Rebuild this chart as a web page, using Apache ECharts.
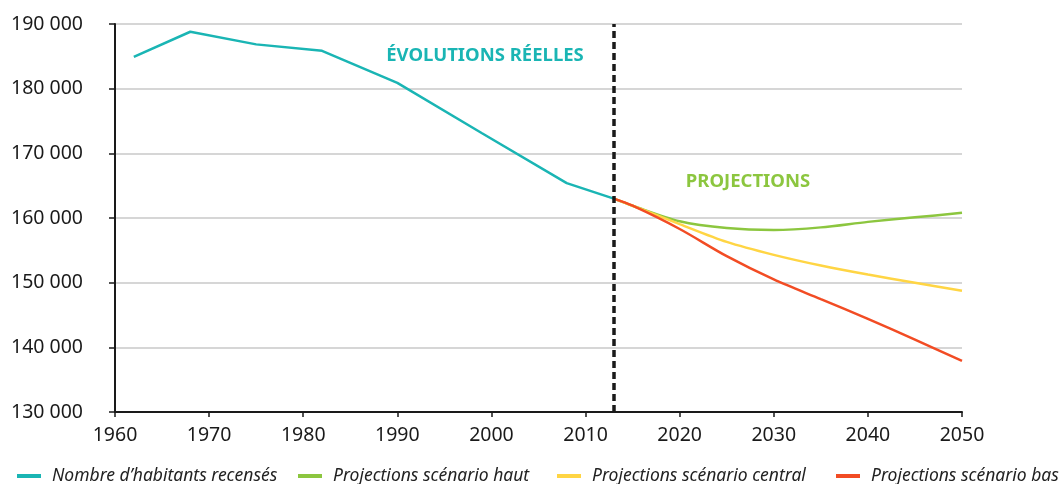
<!DOCTYPE html>
<html><head><meta charset="utf-8">
<script src="https://cdn.jsdelivr.net/npm/echarts@6/dist/echarts.min.js"></script>
<style>html,body{margin:0;padding:0;background:#fff}#c{width:1061px;height:484px}</style>
</head><body><div id="c"></div>
<script>
const seriesNames = ['Nombre d’habitants recensés', 'Projections scénario haut', 'Projections scénario central', 'Projections scénario bas'];
const seriesColors = ['#1ab5b4', '#8cc63f', '#ffd544', '#f24c24'];
const yearsActual = [1962, 1968, 1975, 1982, 1990, 1999, 2008, 2013];
const valuesActual = [184900, 188800, 186850, 185850, 180900, 173100, 165400, 163000];
const yearsProj = [2013, 2015, 2020, 2025, 2030, 2035, 2040, 2045, 2050];
const valuesHigh = [163000, 161900, 159500, 158450, 158150, 158550, 159400, 160100, 160800];
const valuesCentral = [163000, 161900, 159050, 156300, 154300, 152650, 151250, 150000, 148750];
const valuesLow = [163000, 161900, 158300, 154100, 150500, 147450, 144400, 141200, 137900];
const separatorYear = 2013;
const annotations = ['ÉVOLUTIONS RÉELLES', 'PROJECTIONS'];

const FONT = '"Noto Sans", sans-serif';
const pair = (xs, ys) => xs.map((x, i) => [x, ys[i]]);
const fmt = v => String(v).replace(/\B(?=(\d{3})+(?!\d))/g, ' ');

const legendLefts = [12, 293, 552, 831];

const chart = echarts.init(document.getElementById('c'), null, {renderer: 'canvas'});
chart.setOption({
  animation: false,
  backgroundColor: '#fff',
  grid: {left: 115, right: 99, top: 24, bottom: 72, containLabel: false},
  xAxis: {
    type: 'value', min: 1960, max: 2050, interval: 10,
    axisLine: {show: true, lineStyle: {color: '#1a1a1a', width: 2}},
    axisTick: {show: true, length: 5, lineStyle: {color: '#1a1a1a', width: 1.5}},
    splitLine: {show: false},
    axisLabel: {color: '#1a1a1a', fontSize: 19.5, fontFamily: FONT, margin: 13, formatter: v => String(v)}
  },
  yAxis: {
    type: 'value', min: 130000, max: 190000, interval: 10000,
    axisLine: {show: true, lineStyle: {color: '#1a1a1a', width: 2}},
    axisTick: {show: true, length: 6, lineStyle: {color: '#1a1a1a', width: 1.5}},
    splitLine: {show: true, lineStyle: {color: '#c8c8c8', width: 1.5}},
    axisLabel: {color: '#1a1a1a', fontSize: 19.5, fontFamily: FONT, margin: 32, formatter: fmt}
  },
  legend: seriesNames.map((n, i) => ({
    data: [n], left: legendLefts[i], top: 462, icon: 'rect', itemWidth: 24, itemHeight: 4,
    textStyle: {fontStyle: 'italic', fontSize: 17.5, color: '#222', fontFamily: FONT, padding: [0, 0, 0, 6]}
  })),
  graphic: [
    {type: 'text', style: {text: annotations[0], x: 485, y: 56, align: 'center', verticalAlign: 'middle',
      fontSize: 18.5, fontWeight: 'bold', fontFamily: FONT, fill: '#1ab5b4'}},
    {type: 'text', style: {text: annotations[1], x: 748, y: 182, align: 'center', verticalAlign: 'middle',
      fontSize: 18.5, fontWeight: 'bold', fontFamily: FONT, fill: '#8cc63f'}}
  ],
  series: [
    {name: seriesNames[0], type: 'line', data: pair(yearsActual, valuesActual), showSymbol: false,
      lineStyle: {color: seriesColors[0], width: 2.5}, itemStyle: {color: seriesColors[0]}, z: 3,
      markLine: {silent: true, symbol: 'none', label: {show: false},
        lineStyle: {color: '#1a1a1a', width: 3.5, type: [7, 4]}, data: [{xAxis: separatorYear}]}},
    {name: seriesNames[1], type: 'line', data: pair(yearsProj, valuesHigh), showSymbol: false, smooth: 0.3,
      lineStyle: {color: seriesColors[1], width: 2.5}, itemStyle: {color: seriesColors[1]}, z: 3},
    {name: seriesNames[2], type: 'line', data: pair(yearsProj, valuesCentral), showSymbol: false, smooth: 0.3,
      lineStyle: {color: seriesColors[2], width: 2.5}, itemStyle: {color: seriesColors[2]}, z: 3},
    {name: seriesNames[3], type: 'line', data: pair(yearsProj, valuesLow), showSymbol: false, smooth: 0.3,
      lineStyle: {color: seriesColors[3], width: 2.5}, itemStyle: {color: seriesColors[3]}, z: 4}
  ]
});
</script></body></html>
